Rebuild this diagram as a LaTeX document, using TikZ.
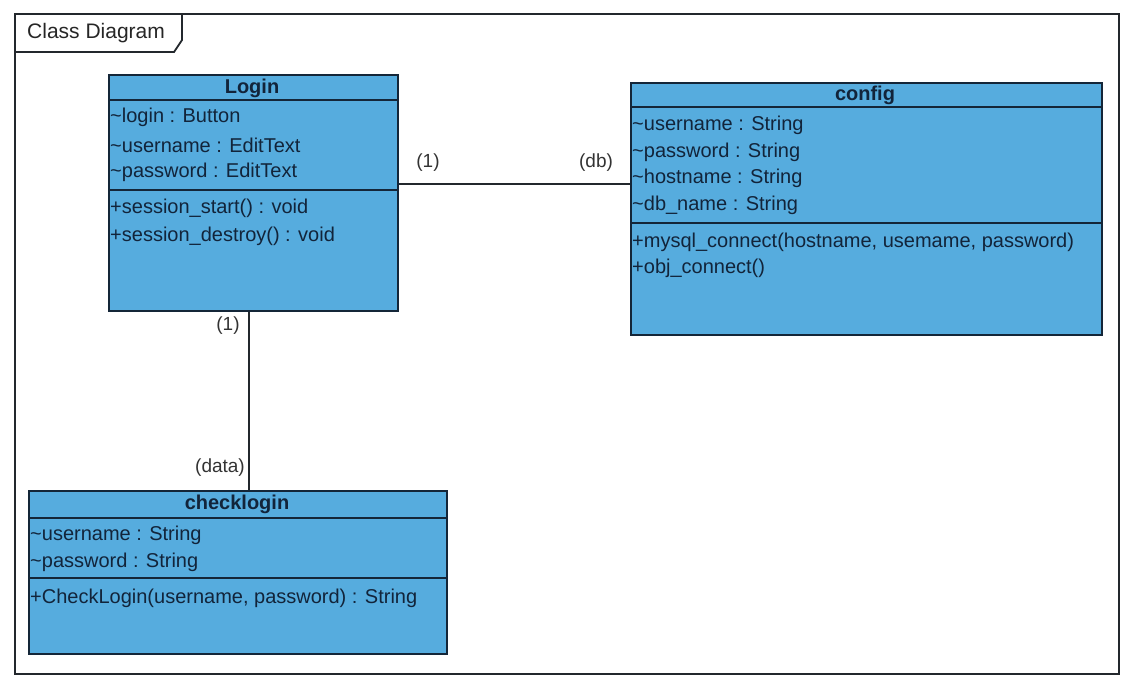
\documentclass[tikz,border=0pt]{standalone}
\usepackage{fontspec}
\setmainfont{Liberation Sans}
\definecolor{boxfill}{RGB}{86,172,222}
\definecolor{boxline}{RGB}{20,38,56}
\definecolor{txt}{RGB}{18,36,58}
\definecolor{framec}{RGB}{35,40,45}
\begin{document}
\begin{tikzpicture}[x=1pt,y=-1pt,
 classbox/.style={draw=boxline, line width=1.6pt, fill=boxfill, anchor=north west, inner sep=0pt},
 classtitle/.style={font=\fontsize{20}{24}\selectfont\bfseries, text=txt, inner sep=0pt},
 member/.style={font=\fontsize{20}{24}\selectfont, text=txt, anchor=west, inner sep=0pt},
 mult/.style={font=\fontsize{19}{23}\selectfont, text=black!80, inner sep=0pt},
 sep/.style={draw=boxline, line width=1.6pt},
 conn/.style={draw=framec, line width=1.5pt},
 framebox/.style={draw=framec, line width=1.8pt, anchor=north west, inner sep=0pt}]
\useasboundingbox (0,0) rectangle (1121,678);
% frame
\node[framebox, minimum width=1104pt, minimum height=660pt] (frame) at (14,13) {};
\coordinate (tabA) at (14,52);
\coordinate (tabB) at (174,52);
\coordinate (tabC) at (182,40);
\coordinate (tabD) at (182,13);
\draw[framec, line width=1.8pt] (tabA) -- (tabB) -- (tabC) -- (tabD);
\node[font=\fontsize{21}{25}\selectfont, text=black!85, inner sep=0pt, anchor=west] (ftitle) at (27,33) {Class Diagram};

% Login
\node[classbox, minimum width=289pt, minimum height=236pt] (login) at (108,74) {};
\draw[sep] (login.west |- 0,100) -- (login.east |- 0,100);
\draw[sep] (login.west |- 0,190) -- (login.east |- 0,190);
\node[classtitle] (logint) at (252,88) {Login};
\node[member] (l1) at (110,117) {\textasciitilde login : Button};
\node[member] (l2) at (110,145) {\textasciitilde username : EditText};
\node[member] (l3) at (110,172) {\textasciitilde password : EditText};
\node[member] (l4) at (110,208) {+session\_start() : void};
\node[member] (l5) at (110,236) {+session\_destroy() : void};

% config
\node[classbox, minimum width=471pt, minimum height=252pt] (config) at (630,82) {};
\draw[sep] (config.west |- 0,107) -- (config.east |- 0,107);
\draw[sep] (config.west |- 0,223) -- (config.east |- 0,223);
\node[classtitle] (configt) at (865,95) {config};
\node[member] (c1) at (632,125) {\textasciitilde username : String};
\node[member] (c2) at (632,152) {\textasciitilde password : String};
\node[member] (c3) at (632,178) {\textasciitilde hostname : String};
\node[member] (c4) at (632,205) {\textasciitilde db\_name : String};
\node[member] (c5) at (632,242) {+mysql\_connect(hostname, usemame, password)};
\node[member] (c6) at (632,268) {+obj\_connect()};

% checklogin
\node[classbox, minimum width=418pt, minimum height=163pt] (check) at (28,490) {};
\draw[sep] (check.west |- 0,518) -- (check.east |- 0,518);
\draw[sep] (check.west |- 0,578) -- (check.east |- 0,578);
\node[classtitle] (checkt) at (237,504) {checklogin};
\node[member] (k1) at (30,535) {\textasciitilde username : String};
\node[member] (k2) at (30,562) {\textasciitilde password : String};
\node[member] (k3) at (30,598) {+CheckLogin(username, password) : String};

% connectors
\draw[conn] (login.east |- 0,184) -- (config.west |- 0,184);
\draw[conn] (login.south -| 249,0) -- (check.north -| 249,0);
\node[mult] (m1) at (428,163) {(1)};
\node[mult] (m2) at (596,163) {(db)};
\node[mult] (m3) at (228,326) {(1)};
\node[mult] (m4) at (220,468) {(data)};
\end{tikzpicture}
\end{document}
